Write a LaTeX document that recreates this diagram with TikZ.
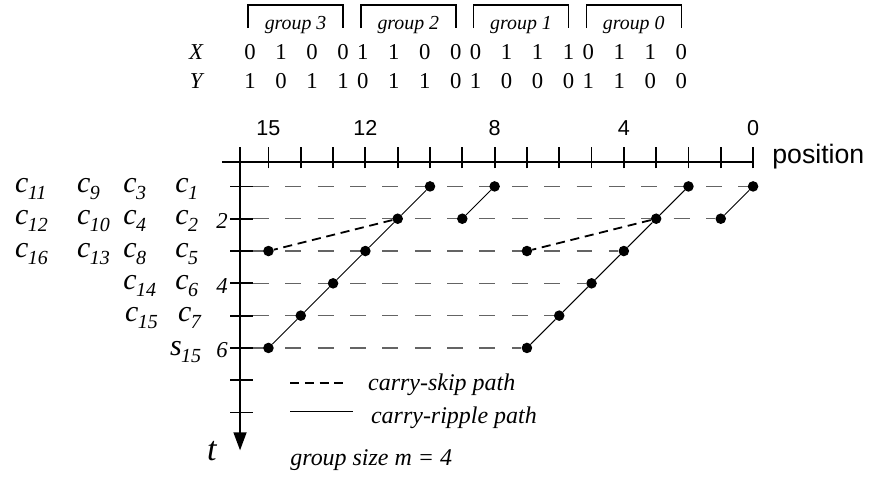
\documentclass[tikz,border=0pt]{standalone}
\usepackage{fontspec}
\setmainfont{Liberation Serif}
\setsansfont{Liberation Sans}
\usepackage{tikz}
\usetikzlibrary{arrows.meta,positioning,backgrounds}
\definecolor{guide}{RGB}{100,100,100}
\newcommand{\fsz}[1]{\fontsize{#1}{#1}\selectfont}
\newcommand{\clab}[2]{#1\kern-0.02em\raisebox{-0.235em}{\fsz{17.6pt}#2}}

\begin{document}
\begin{tikzpicture}[
    axis/.style={line width=1.6pt},
    brk/.style={line width=1.3pt},
    guideline/.style={draw=guide,line width=1.1pt,dash pattern=on 14pt off 14.5pt},
    ripple/.style={draw=black,line width=0.8pt},
    skippath/.style={draw=black,line width=1.6pt,dash pattern=on 8pt off 5pt},
    dot/.style={circle,fill=black,inner sep=0pt,minimum size=9.3pt},
    bit/.style={font=\fsz{20pt},anchor=base,inner sep=0pt},
    grp/.style={font=\fsz{17.5pt}\itshape,anchor=base,inner sep=0pt},
    num/.style={font=\sffamily\fsz{19pt},anchor=base,inner sep=0pt},
    lab/.style={font=\fsz{26.4pt}\itshape,anchor=base west,inner sep=0pt},
    rownum/.style={font=\fsz{20pt}\itshape,anchor=east,inner sep=0pt},
    leg/.style={font=\fsz{21.1pt}\itshape,anchor=base west,inner sep=0pt}]
   \useasboundingbox (-23.31,-9.75) rectangle (3.65,5.02);
   % operands and groups
   \node[bit,font=\fsz{20pt}\itshape] (xlab) at (-17.24,3.19) {X};
   \node[bit,font=\fsz{20pt}\itshape] (ylab) at (-17.24,2.29) {Y};
   \foreach \xb/\yb [count=\i from 0] in {0/1,1/0,0/1,0/1,1/0,1/1,0/1,0/0,0/1,1/0,1/0,1/0,0/1,1/1,1/0,0/0}{
      \pgfmathsetmacro{\bx}{-15.57+3.489*floor(\i/4)+0.96*mod(\i,4)}
      \node[bit] (x\i) at (\bx,3.19) {\xb};
      \node[bit] (y\i) at (\bx,2.29) {\yb};
   }
   \foreach \k/\g in {0/3,1/2,2/1,3/0}{
      \pgfmathsetmacro{\bl}{-15.57+3.489*\k-0.06}
      \pgfmathsetmacro{\br}{-15.57+3.489*\k+2.88}
      \pgfmathsetmacro{\bm}{-15.57+3.489*\k+1.41}
      \draw[brk] (\bl,4.15) |- (\br,4.86) -- (\br,4.15);
      \node[grp] (g\g) at (\bm,4.12) {group \g};
   }
   % axes
   \draw[axis] (-16.44,0) -- (0,0);
   \draw[axis,-{Triangle[length=0.56cm,width=0.4cm]}] (-15.88,0.46) -- (-15.88,-8.92);
   \foreach \p in {0,...,15} \draw[axis] (-\p,-0.19) -- (-\p,0.46);
   \foreach \r in {1,...,8} \draw[axis] (-16.19,0.25-\r) -- (-15.48,0.25-\r);
   \foreach \p in {15,12,8,4,0} \node[num] (n\p) at (-\p,0.84) {\p};
   \node[font=\sffamily\fsz{23.5pt},anchor=base west,inner sep=0pt] (pos) at (0.59,-0.03) {position};
   \node[rownum] (t2) at (-16.25,-1.83) {2};
   \node[rownum] (t4) at (-16.25,-3.83) {4};
   \node[rownum] (t6) at (-16.25,-5.83) {6};
   \node[font=\fsz{30pt}\itshape,inner sep=0pt] (tlab) at (-16.75,-8.94) {t};
   % carries
   \node[lab] (c11) at (-22.85,-0.94) {\clab{c}{11}};
   \node[lab] (c9)  at (-20.93,-0.94) {\clab{c}{9}};
   \node[lab] (c3)  at (-19.50,-0.94) {\clab{c}{3}};
   \node[lab] (c1)  at (-17.89,-0.94) {\clab{c}{1}};
   \node[lab] (c12) at (-22.85,-1.94) {\clab{c}{12}};
   \node[lab] (c10) at (-20.93,-1.94) {\clab{c}{10}};
   \node[lab] (c4)  at (-19.50,-1.94) {\clab{c}{4}};
   \node[lab] (c2)  at (-17.89,-1.94) {\clab{c}{2}};
   \node[lab] (c16) at (-22.85,-2.94) {\clab{c}{16}};
   \node[lab] (c13) at (-20.93,-2.94) {\clab{c}{13}};
   \node[lab] (c8)  at (-19.50,-2.94) {\clab{c}{8}};
   \node[lab] (c5)  at (-17.89,-2.94) {\clab{c}{5}};
   \node[lab] (c14) at (-19.50,-3.94) {\clab{c}{14}};
   \node[lab] (c6)  at (-17.89,-3.94) {\clab{c}{6}};
   \node[lab] (c15) at (-19.44,-4.94) {\clab{c}{15}};
   \node[lab] (c7)  at (-17.80,-4.94) {\clab{c}{7}};
   \node[lab] (s15) at (-18.05,-5.97) {\clab{s}{15}};
   % dots
   \node[dot] (d0r1)  at (0,-0.75) {};
   \node[dot] (d2r1)  at (-2,-0.75) {};
   \node[dot] (d8r1)  at (-8,-0.75) {};
   \node[dot] (d10r1) at (-10,-0.75) {};
   \node[dot] (d1r2)  at (-1,-1.75) {};
   \node[dot] (d3r2)  at (-3,-1.75) {};
   \node[dot] (d9r2)  at (-9,-1.75) {};
   \node[dot] (d11r2) at (-11,-1.75) {};
   \node[dot] (d4r3)  at (-4,-2.75) {};
   \node[dot] (d7r3)  at (-7,-2.75) {};
   \node[dot] (d12r3) at (-12,-2.75) {};
   \node[dot] (d15r3) at (-15,-2.75) {};
   \node[dot] (d5r4)  at (-5,-3.75) {};
   \node[dot] (d13r4) at (-13,-3.75) {};
   \node[dot] (d6r5)  at (-6,-4.75) {};
   \node[dot] (d14r5) at (-14,-4.75) {};
   \node[dot] (d7r6)  at (-7,-5.75) {};
   \node[dot] (d15r6) at (-15,-5.75) {};
   \foreach \r in {1,...,6} \coordinate (k\r) at (-15.48,0.25-\r);
   \begin{scope}[on background layer]
   \draw[guideline] (k1) -- (d0r1);
   \draw[guideline] (k2) -- (d1r2);
   \draw[guideline] (k3) -- (d4r3);
   \draw[guideline] (k4) -- (d5r4);
   \draw[guideline] (k5) -- (d6r5);
   \draw[guideline] (k6) -- (d7r6);
   \end{scope}
   \draw[ripple] (d0r1) -- (d1r2);
   \draw[ripple] (d2r1) -- (d3r2) -- (d4r3) -- (d5r4) -- (d6r5) -- (d7r6);
   \draw[ripple] (d8r1) -- (d9r2);
   \draw[ripple] (d10r1) -- (d11r2) -- (d12r3) -- (d13r4) -- (d14r5) -- (d15r6);
   \draw[skippath] (d3r2) -- (d7r3);
   \draw[skippath] (d11r2) -- (d15r3);
   % legend
   \coordinate (ls1) at (-14.33,-6.84);
   \coordinate (ls2) at (-12.60,-6.84);
   \coordinate (lr1) at (-14.33,-7.71);
   \coordinate (lr2) at (-12.38,-7.71);
   \draw[skippath] (ls1) -- (ls2);
   \draw[ripple] (lr1) -- (lr2);
   \node[leg] (lskip) at (-11.92,-7.06) {carry-skip path};
   \node[leg] (lrip)  at (-11.83,-8.08) {carry-ripple path};
   \node[leg] (gsize) at (-14.33,-9.38) {group size m = 4};
\end{tikzpicture}
\end{document}
